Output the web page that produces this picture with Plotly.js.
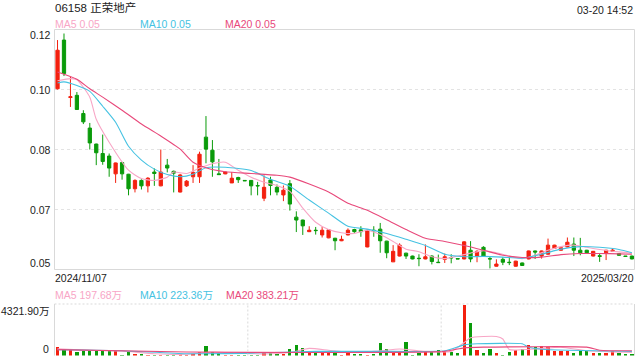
<!DOCTYPE html>
<html><head><meta charset="utf-8">
<script src="https://cdn.plot.ly/plotly-3.0.1.min.js"></script>
<style>html,body{margin:0;padding:0;background:#fff}#c{width:640px;height:360px}</style>
</head><body><div id="c"></div>
<script>
// ---- data ----
const firstDate = '2024/11/07';
const lastDate = '2025/03/20';
const openP  = [0.1002,0.1136,0.0978,0.0984,0.0934,0.0894,0.0850,0.0824,0.0817,0.0768,
                0.0799,0.0767,0.0727,0.0750,0.0735,0.0773,0.0735,0.0792,0.0775,0.0718,
                0.0735,0.0760,0.0760,0.0869,0.0833,0.0768,0.0768,0.0743,0.0758,0.0750,
                0.0750,0.0736,0.0701,0.0751,0.0731,0.0710,0.0741,0.0649,0.0641,0.0609,
                0.0613,0.0600,0.0592,0.0591,0.0584,0.0600,0.0615,0.0614,0.0567,0.0613,
                0.0616,0.0583,0.0526,0.0542,0.0550,0.0542,0.0536,0.0534,0.0542,0.0525,
                0.0533,0.0538,0.0535,0.0534,0.0558,0.0542,0.0566,0.0535,0.0514,0.0533,
                0.0525,0.0514,0.0523,0.0534,0.0556,0.0542,0.0547,0.0563,0.0558,0.0567,
                0.0575,0.0558,0.0558,0.0542,0.0543,0.0551,0.0555,0.0549,0.0542,0.0542];
const highP  = [0.1136,0.1154,0.1035,0.0993,0.0943,0.0908,0.0851,0.0876,0.0824,0.0799,
                0.0801,0.0768,0.0753,0.0753,0.0759,0.0783,0.0835,0.0809,0.0777,0.0768,
                0.0751,0.0792,0.0829,0.0927,0.0861,0.0809,0.0774,0.0773,0.0760,0.0751,
                0.0751,0.0746,0.0764,0.0760,0.0739,0.0736,0.0751,0.0665,0.0642,0.0624,
                0.0622,0.0622,0.0615,0.0592,0.0598,0.0618,0.0617,0.0624,0.0615,0.0624,
                0.0633,0.0584,0.0572,0.0577,0.0551,0.0543,0.0547,0.0574,0.0544,0.0546,
                0.0549,0.0547,0.0536,0.0583,0.0583,0.0558,0.0569,0.0542,0.0533,0.0539,
                0.0539,0.0529,0.0524,0.0557,0.0557,0.0557,0.0590,0.0573,0.0566,0.0593,
                0.0593,0.0592,0.0559,0.0556,0.0549,0.0559,0.0563,0.0550,0.0542,0.0543];
const lowP   = [0.1000,0.1037,0.0952,0.0945,0.0905,0.0835,0.0792,0.0793,0.0760,0.0743,
                0.0752,0.0709,0.0717,0.0725,0.0717,0.0735,0.0734,0.0772,0.0717,0.0717,
                0.0732,0.0743,0.0743,0.0797,0.0760,0.0766,0.0767,0.0743,0.0743,0.0749,
                0.0709,0.0709,0.0693,0.0709,0.0709,0.0693,0.0667,0.0608,0.0600,0.0608,
                0.0601,0.0593,0.0591,0.0558,0.0583,0.0599,0.0606,0.0595,0.0566,0.0595,
                0.0551,0.0536,0.0526,0.0541,0.0534,0.0533,0.0514,0.0533,0.0519,0.0524,
                0.0523,0.0522,0.0534,0.0533,0.0525,0.0525,0.0541,0.0508,0.0513,0.0517,
                0.0517,0.0513,0.0515,0.0533,0.0534,0.0535,0.0546,0.0562,0.0557,0.0566,
                0.0542,0.0544,0.0550,0.0541,0.0526,0.0531,0.0555,0.0543,0.0541,0.0533];
const closeP = [0.1108,0.1044,0.0980,0.0945,0.0911,0.0853,0.0826,0.0802,0.0784,0.0798,
                0.0768,0.0727,0.0750,0.0735,0.0756,0.0769,0.0773,0.0784,0.0770,0.0765,
                0.0748,0.0772,0.0822,0.0836,0.0801,0.0766,0.0773,0.0756,0.0752,0.0749,
                0.0735,0.0735,0.0731,0.0736,0.0718,0.0723,0.0685,0.0641,0.0625,0.0613,
                0.0612,0.0613,0.0614,0.0584,0.0588,0.0613,0.0609,0.0609,0.0613,0.0612,
                0.0584,0.0551,0.0555,0.0572,0.0542,0.0534,0.0535,0.0540,0.0527,0.0524,
                0.0540,0.0537,0.0534,0.0581,0.0534,0.0555,0.0542,0.0534,0.0520,0.0525,
                0.0524,0.0528,0.0516,0.0556,0.0553,0.0556,0.0572,0.0572,0.0565,0.0580,
                0.0558,0.0551,0.0551,0.0555,0.0541,0.0558,0.0558,0.0544,0.0541,0.0534];
// volume, 万 shares
const volume = [762,536,480,282,424,424,424,367,367,367, 56,282,141,141,85,56,85,85,85,141,
                85,141,282,847,282,198,85,85,85,85, 85,85,339,198,141,141,565,932,678,339,
                282,282,282,424,85,282,141,141,85,141, 1073,565,282,282,1186,56,254,424,282,480,
                339,282,198,4321.9,2738,508,254,593,254,85, 282,508,536,903,706,847,762,367,367,424,
                254,367,367,254,198,254,424,198,141,141];
// moving averages (candle index -> value)
const ma5Idx = [0,2,3,5,6,8,11,13,15,17,18,20,22,24,26,28,30,32,34,36,38,40,42,44,46,48,50,52,54,56,58,60,62,64,66,68,70,72,74,76,78,80,82,84,86,88,89];
const ma5Val = [0.1024,0.1030,0.1027,0.0979,0.0918,0.0855,0.0778,0.0755,0.0750,0.0759,0.0773,0.0769,0.0784,0.0796,0.0800,0.0778,0.0759,0.0745,0.0736,0.0720,0.0674,0.0635,0.0615,0.0606,0.0604,0.0613,0.0601,0.0582,0.0561,0.0554,0.0540,0.0535,0.0542,0.0550,0.0557,0.0551,0.0542,0.0535,0.0544,0.0558,0.0568,0.0572,0.0566,0.0560,0.0555,0.0552,0.0549];
const ma10Idx = [0,1,3,5,7,9,11,13,15,17,19,21,23,26,30,33,36,39,42,45,48,51,54,57,60,63,66,69,72,75,78,81,84,87,89];
const ma10Val = [0.1018,0.1021,0.1011,0.0995,0.0954,0.0910,0.0844,0.0806,0.0781,0.0766,0.0760,0.0767,0.0785,0.0786,0.0777,0.0753,0.0734,0.0696,0.0660,0.0624,0.0616,0.0604,0.0588,0.0571,0.0547,0.0540,0.0541,0.0539,0.0536,0.0547,0.0561,0.0568,0.0566,0.0560,0.0551];
const ma20Idx = [0,3,5,7,10,13,16,19,21,23,26,30,34,36,39,42,45,48,51,54,57,60,63,66,69,72,75,78,81,84,87,89];
const ma20Val = [0.1048,0.1028,0.1002,0.0979,0.0943,0.0905,0.0872,0.0836,0.0800,0.0785,0.0774,0.0769,0.0764,0.0759,0.0740,0.0718,0.0687,0.0668,0.0642,0.0615,0.0591,0.0582,0.0571,0.0558,0.0544,0.0538,0.0539,0.0546,0.0549,0.0549,0.0548,0.0547];
const vma5Idx = [0,5,10,15,20,24,28,32,36,39,42,46,50,53,57,61,63,64,66,68,69,70,74,78,82,86,89];
const vma5Val = [560,450,380,150,100,300,200,130,250,600,450,250,400,550,350,350,1100,1500,1610,1610,1400,500,550,700,400,300,250];
const vma10Idx = [0,10,20,30,40,50,60,63,65,72,73,75,89];
const vma10Val = [500,400,150,200,350,350,400,900,990,990,700,536,350];
const vma20Idx = [0,20,40,60,63,66,82,84,89];
const vma20Val = [500,300,250,350,650,706,706,450,400];
const yTickVals = [0.1165,0.1000,0.0835,0.0670,0.0505];
const yTickText = ['0.12','0.10','0.08','0.07','0.05'];
const legendPrice = ['MA5 0.05','MA10 0.05','MA20 0.05'];
const legendVol = ['MA5 197.68万','MA10 223.36万','MA20 383.21万'];
const volMaxText = '4321.90万';

// ---- drawing ----
const RED = '#f3200f', GREEN = '#0a9b0a';
const C5 = '#f8a6c6', C10 = '#45c2e2', C20 = '#e8497b';
const W = 640, H = 360;
const px = x => x / W, py = y => 1 - y / H;
const idx = openP.map((_, i) => i);
const FONT = 'Liberation Sans, Arial, Noto Sans CJK SC, sans-serif';

const yTop = 29.5, yBot = 269.5, xL = 54.5, xR = 634.5, vTop = 304, vBot = 355.5;

const traces = [
  {type:'candlestick', x: idx, open: openP, high: highP, low: lowP, close: closeP,
   increasing:{line:{color:RED,width:1}, fillcolor:RED},
   decreasing:{line:{color:GREEN,width:1}, fillcolor:GREEN},
   whiskerwidth:0, xaxis:'x', yaxis:'y', hoverinfo:'skip', showlegend:false},
  {type:'scatter', mode:'lines', x: ma5Idx, y: ma5Val, line:{color:C5,width:1.1,shape:'spline',smoothing:0.6}, xaxis:'x', yaxis:'y', hoverinfo:'skip', showlegend:false},
  {type:'scatter', mode:'lines', x: ma10Idx, y: ma10Val, line:{color:C10,width:1.1,shape:'spline',smoothing:0.6}, xaxis:'x', yaxis:'y', hoverinfo:'skip', showlegend:false},
  {type:'scatter', mode:'lines', x: ma20Idx, y: ma20Val, line:{color:C20,width:1.1,shape:'spline',smoothing:0.6}, xaxis:'x', yaxis:'y', hoverinfo:'skip', showlegend:false},
  {type:'bar', x: idx, y: volume, width:0.5,
   marker:{color: closeP.map((c,i)=> c>=openP[i] ? RED : GREEN), line:{width:0}},
   xaxis:'x2', yaxis:'y2', hoverinfo:'skip', showlegend:false},
  {type:'scatter', mode:'lines', x: vma5Idx, y: vma5Val, line:{color:C5,width:1.1,shape:'spline',smoothing:0.5}, xaxis:'x2', yaxis:'y2', hoverinfo:'skip', showlegend:false},
  {type:'scatter', mode:'lines', x: vma10Idx, y: vma10Val, line:{color:C10,width:1.1,shape:'spline',smoothing:0.5}, xaxis:'x2', yaxis:'y2', hoverinfo:'skip', showlegend:false},
  {type:'scatter', mode:'lines', x: vma20Idx, y: vma20Val, line:{color:C20,width:1.1,shape:'spline',smoothing:0.5}, xaxis:'x2', yaxis:'y2', hoverinfo:'skip', showlegend:false}
];

const xr = [-0.47, idx.length - 1 + 0.4];
const ann = [];
function txt(t, x, y, anchor, color, size){
  ann.push({text:t, x:px(x), y:py(y), xref:'paper', yref:'paper', xanchor:anchor, yanchor:'middle',
            showarrow:false, borderpad:0, font:{family:FONT, size:size||10.5, color:color||'#222'}});
}
txt('06158 正荣地产', 54, 7, 'left', '#222', 11.5);
txt('03-20 14:52', 634, 9.5, 'right', '#222', 10.5);
txt(legendPrice[0], 54, 24, 'left', C5, 10.5);
txt(legendPrice[1], 139, 24, 'left', C10, 10.5);
txt(legendPrice[2], 224, 24, 'left', C20, 10.5);
const yLabelPos = [35, 89.5, 149.5, 209.5, 263];
yTickText.forEach((t,i)=> txt(t, 52, yLabelPos[i], 'right', '#222', 10.5));
txt(firstDate, 54, 278, 'left', '#222', 10.5);
txt(lastDate, 634.5, 278, 'right', '#222', 10.5);
txt(legendVol[0], 54, 294.5, 'left', C5, 10.5);
txt(legendVol[1], 139, 294.5, 'left', C10, 10.5);
txt(legendVol[2], 224.5, 294.5, 'left', C20, 10.5);
txt(volMaxText, 50, 310.5, 'right', '#222', 10.5);
txt('0', 50, 348.5, 'right', '#222', 10.5);

const BORDER = '#d9d9d9';
const shapes = [
  {type:'rect', xref:'paper', yref:'paper', x0:px(xL), x1:px(xR), y0:py(yBot), y1:py(yTop), line:{color:BORDER,width:1}},
  {type:'line', xref:'paper', yref:'paper', x0:px(xL), x1:px(xL), y0:py(vBot), y1:py(vTop), line:{color:BORDER,width:1}},
  {type:'line', xref:'paper', yref:'paper', x0:px(xR), x1:px(xR), y0:py(vBot), y1:py(vTop), line:{color:BORDER,width:1}},
  {type:'line', xref:'paper', yref:'paper', x0:px(xL), x1:px(xR), y0:py(vTop), y1:py(vTop), line:{color:BORDER,width:1,dash:'2px,2px'}},
  {type:'line', xref:'paper', yref:'paper', x0:px(xL+(xR-xL)/3), x1:px(xL+(xR-xL)/3), y0:py(vBot), y1:py(vTop), line:{color:BORDER,width:1,dash:'2px,2px'}},
  {type:'line', xref:'paper', yref:'paper', x0:px(xL+2*(xR-xL)/3), x1:px(xL+2*(xR-xL)/3), y0:py(vBot), y1:py(vTop), line:{color:BORDER,width:1,dash:'2px,2px'}}
];

const layout = {
  width:W, height:H, margin:{l:0,r:0,t:0,b:0}, paper_bgcolor:'#fff', plot_bgcolor:'rgba(0,0,0,0)',
  showlegend:false, boxgap:0.28, bargap:0,
  xaxis:{domain:[px(xL),px(xR)], range:xr, showgrid:false, zeroline:false, showticklabels:false, showline:false, ticks:'', rangeslider:{visible:false}, anchor:'y', fixedrange:true},
  yaxis:{domain:[py(yBot),py(yTop)], range:[yTickVals[4], yTickVals[0]], tickmode:'array', tickvals:yTickVals.slice(1,4),
         showgrid:true, gridcolor:'#e3e3e3', gridwidth:1, griddash:'3px,3px', zeroline:false, showticklabels:false, showline:false, ticks:'', anchor:'x', fixedrange:true},
  xaxis2:{domain:[px(xL),px(xR)], range:xr, showgrid:false, zeroline:false, showticklabels:false, showline:false, ticks:'', anchor:'y2', fixedrange:true},
  yaxis2:{domain:[py(vBot),py(vTop)], range:[0, 4321.9*1.01], showgrid:false, zeroline:false, showticklabels:false, showline:false, ticks:'', anchor:'x2', fixedrange:true},
  annotations: ann, shapes: shapes
};
Plotly.newPlot('c', traces, layout, {displayModeBar:false, staticPlot:true});
</script>
</body></html>
